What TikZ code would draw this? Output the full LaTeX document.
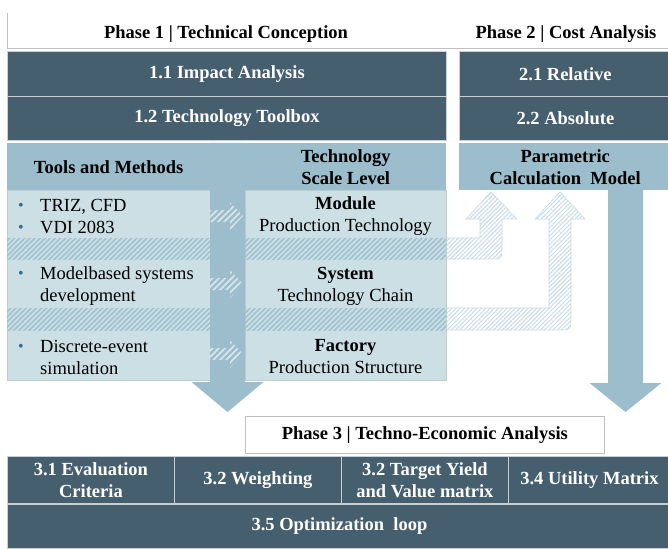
\documentclass[tikz,border=0pt]{standalone}
\usepackage{fontspec}
\setmainfont{Liberation Serif}
\usetikzlibrary{patterns.meta}

\definecolor{slate}{HTML}{465F6F}
\definecolor{midblue}{HTML}{9BBDCC}
\definecolor{paleblue}{HTML}{CCDFE5}
\definecolor{hatchblue}{HTML}{A0C1CF}
\definecolor{faintblue}{HTML}{CADDE5}
\definecolor{faintedge}{HTML}{C8D9E0}
\definecolor{sepgray}{HTML}{C9CED2}
\definecolor{framegray}{HTML}{BFBFBF}
\definecolor{bulletblue}{HTML}{2F6F94}

\newcommand\bul{\makebox[22pt][l]{\textcolor{bulletblue}{\fontsize{16}{16}\selectfont\raisebox{0.5pt}{•}}}}

\begin{document}
\begin{tikzpicture}[x=1pt,y=-1pt,
  every node/.style={inner sep=0pt, font=\fontsize{18.5}{22}\selectfont},
  darkbox/.style={anchor=north west, fill=slate, draw=sepgray, line width=0.8pt,
    text=white, font=\fontsize{18.5}{22}\selectfont\bfseries, align=center},
  headbox/.style={anchor=north west, fill=midblue, align=center,
    font=\fontsize{18.5}{22}\selectfont\bfseries},
  bodybox/.style={anchor=north west, fill=paleblue, draw=paleblue!80!gray, line width=0.5pt},
  rowtext/.style={align=center},
  tooltext/.style={anchor=west, align=left},
  bandhatch/.style={fill=white, pattern={Lines[angle=45,distance=3.6pt,line width=1.6pt]}, pattern color=hatchblue},
  flowhatch/.style={fill=white, pattern={Lines[angle=45,distance=3pt,line width=1.1pt]}, pattern color=faintblue},
  whitehatch/.style={pattern={Lines[angle=45,distance=4.5pt,line width=1.8pt]}, pattern color=white, opacity=0.6},
  bigarrow/.style={fill=midblue}
]
\useasboundingbox (0,0) rectangle (668,548);

% phase headers
\draw[framegray, line width=0.8pt] (7.5,13) -- (7.5,48) -- (668,48);
\node (ph1) at (226,34) {\bfseries Phase 1 | Technical Conception};
\node (ph2) at (566,34) {\bfseries Phase 2 | Cost Analysis};

% phase 1 and 2 blocks
\node[darkbox, minimum width=439pt, minimum height=45pt] (imp) at (7,51) {1.1 Impact Analysis};
\node[darkbox, minimum width=439pt, minimum height=44pt] (tbx) at (7,96) {1.2 Technology Toolbox};
\node[darkbox, minimum width=212pt, minimum height=45pt] (rel) at (459,51) {2.1 Relative};
\node[darkbox, minimum width=212pt, minimum height=44pt] (abs) at (459,96) {2.2 Absolute};

% column headers
\node[headbox, minimum width=203pt, minimum height=47pt] (tools) at (7,143) {Tools and Methods};
\node[headbox, minimum width=201pt, minimum height=47pt] (scale) at (245,143) {Technology\\Scale Level};
\node[headbox, minimum width=212pt, minimum height=47pt] (param) at (459,143) {Parametric\\Calculation\ \ Model};

% body columns
\node[bodybox, minimum width=203pt, minimum height=190pt] (lb) at (7,190) {};
\node[bodybox, minimum width=201pt, minimum height=190pt] (rb) at (245,190) {};

% hatched separator bands
\fill[bandhatch] (7,238) rectangle (210,259);
\fill[bandhatch] (245,238) rectangle (446,259);
\fill[bandhatch] (7,308) rectangle (210,330);
\fill[bandhatch] (245,308) rectangle (446,330);

% flows from the scale levels up to the calculation model
\path[flowhatch, draw=faintedge, line width=0.6pt]
  (446,238) -- (480,238) -- (480,219) -- (466,219) -- (491,192) -- (517,219)
  -- (502,219) -- (502,247) .. controls (502,259) .. (490,259) -- (446,259);
\path[flowhatch, draw=faintedge, line width=0.6pt]
  (446,308) -- (549,308) -- (549,219) -- (535,219) -- (560,192) -- (585,219)
  -- (571,219) -- (571,316) .. controls (571,330) .. (557,330) -- (446,330);

% main downward arrows
\fill[bigarrow] (210,143) -- (245,143) -- (245,382) -- (263.5,382) -- (227.5,412)
  -- (191.5,382) -- (210,382) -- cycle;
\fill[bigarrow] (608,190) -- (643,190) -- (643,383) -- (661.5,383) -- (625.5,412)
  -- (589.5,383) -- (608,383) -- cycle;

% small arrows linking tools to scale levels
\foreach \c in {216,284,354}{
  \fill[whitehatch] (210,\c-6) -- (230,\c-6) -- (230,\c-14) -- (243,\c)
    -- (230,\c+14) -- (230,\c+6) -- (210,\c+6) -- cycle;
}

% tools and methods
\node[tooltext] (t1) at (18,216.5) {\bul TRIZ, CFD\\\bul VDI 2083};
\node[tooltext] (t2) at (18,286) {\bul Modelbased systems\\\hspace*{22pt}development};
\node[tooltext] (t3) at (18,357) {\bul Discrete-event\\\hspace*{22pt}simulation};

% technology scale levels
\node[rowtext] (s1) at (345.5,216.5) {\textbf{Module}\\Production Technology};
\node[rowtext] (s2) at (345.5,286) {\textbf{System}\\Technology Chain};
\node[rowtext] (s3) at (345.5,357) {\textbf{Factory}\\Production Structure};

% phase 3
\node[anchor=north west, draw=framegray, line width=0.8pt, fill=white,
  minimum width=359pt, minimum height=37pt] (ph3) at (245,416)
  {\bfseries Phase 3 | Techno-Economic Analysis};
\node[darkbox, minimum width=167pt, minimum height=47pt] (ec) at (7,456) {3.1 Evaluation\\Criteria};
\node[darkbox, minimum width=167pt, minimum height=47pt] (wt) at (174,456) {3.2 Weighting};
\node[darkbox, minimum width=167pt, minimum height=47pt] (ty) at (341,456) {3.2 Target Yield\\and Value matrix};
\node[darkbox, minimum width=162pt, minimum height=47pt] (um) at (508,456) {3.4 Utility Matrix};
\node[darkbox, minimum width=664pt, minimum height=44pt] (opt) at (7,504) {3.5 Optimization\ \ loop};
\end{tikzpicture}
\end{document}
